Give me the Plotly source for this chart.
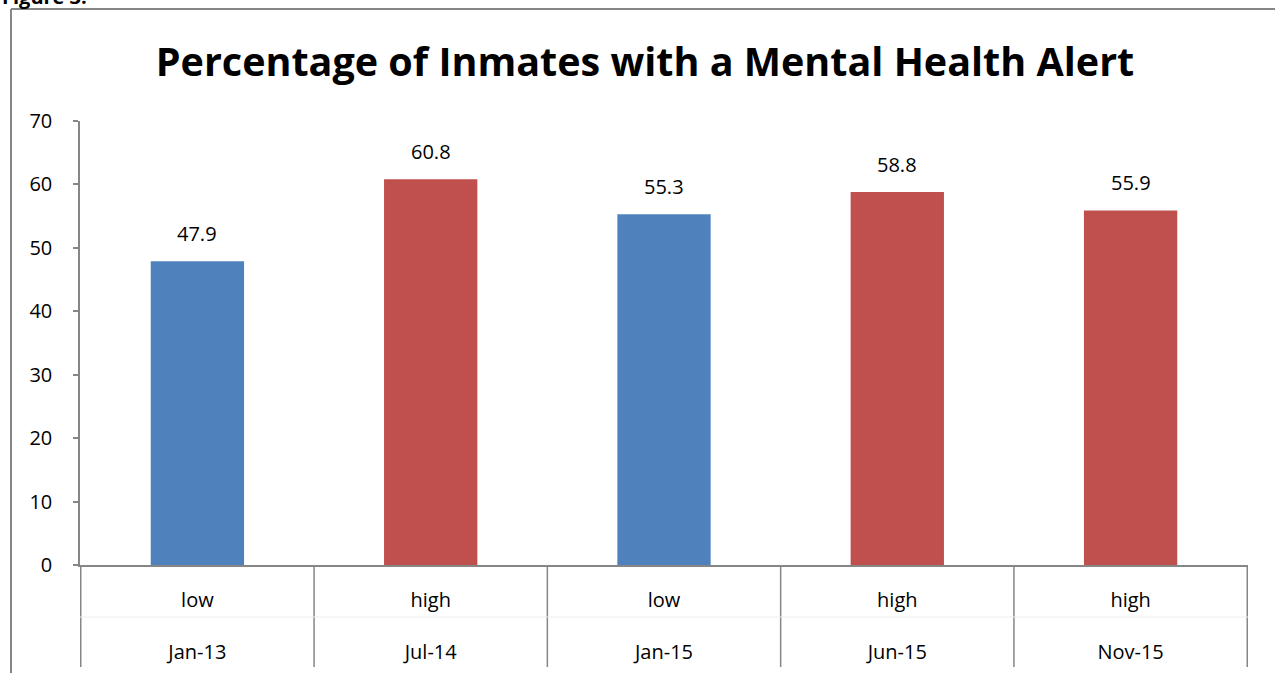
import plotly.graph_objects as go

# ---- data ----
dates = ["Jan-13", "Jul-14", "Jan-15", "Jun-15", "Nov-15"]
levels = ["low", "high", "low", "high", "high"]
values = [47.9, 60.8, 55.3, 58.8, 55.9]
level_colors = {"low": "#4F81BD", "high": "#C0504D"}
y_ticks = [0, 10, 20, 30, 40, 50, 60, 70]
title_text = "Percentage of Inmates with a Mental Health Alert"

FONT = "Open Sans"
AXIS_GRAY = "#868686"

# plot area geometry (px)
W, H = 1275, 673
L, R, T, B = 80, 27, 121, 108
pw, ph = W - L - R, H - T - B

def px_x(p):
    return (p - L) / pw

def px_y(p):
    return (H - B - p) / ph

cats = [f"{lv}<br><br>{d}" for lv, d in zip(levels, dates)]

fig = go.Figure()
fig.add_trace(go.Bar(
    x=cats,
    y=values,
    marker=dict(color=[level_colors[lv] for lv in levels], line=dict(width=0)),
    width=0.4,
    hoverinfo="x+y",
))

# value labels above bars
for c, v in zip(cats, values):
    fig.add_annotation(x=c, y=v, text=f"{v:.1f}", showarrow=False,
                       yanchor="bottom", yshift=12,
                       font=dict(family=FONT, size=20, color="#000000"))

# category separators (at category boundaries) below the axis
shapes = []
for i in range(len(cats) + 1):
    shapes.append(dict(type="line", xref="x", yref="paper",
                       x0=i - 0.5, x1=i - 0.5, y0=0, y1=px_y(667),
                       line=dict(color=AXIS_GRAY, width=1.5)))
# faint row separator
shapes.append(dict(type="line", xref="paper", yref="paper",
                   x0=0, x1=1, y0=px_y(617), y1=px_y(617),
                   line=dict(color="#ececec", width=1)))
# outer chart frame (cropped)
shapes.append(dict(type="line", xref="paper", yref="paper",
                   x0=px_x(11), x1=px_x(11), y0=px_y(9), y1=px_y(700),
                   line=dict(color=AXIS_GRAY, width=2)))
shapes.append(dict(type="line", xref="paper", yref="paper",
                   x0=px_x(11), x1=px_x(1300), y0=px_y(9), y1=px_y(9),
                   line=dict(color=AXIS_GRAY, width=2)))

fig.add_annotation(xref="paper", yref="paper", x=px_x(0), y=px_y(12),
                   xanchor="left", yanchor="bottom", showarrow=False,
                   text="<b>Figure 3:</b>",
                   font=dict(family=FONT, size=20, color="#000000"))

fig.update_layout(
    width=W, height=H,
    margin=dict(l=L, r=R, t=T, b=B, pad=0, autoexpand=False),
    paper_bgcolor="white", plot_bgcolor="white",
    showlegend=False,
    bargap=0.6,
    title=dict(text=f"<b>{title_text}</b>", x=645 / W, xanchor="center",
               y=1 - 62 / H, yanchor="middle",
               font=dict(family=FONT, size=39.5, color="#000000")),
    shapes=shapes,
    font=dict(family=FONT, size=20, color="#000000"),
)

fig.update_xaxes(
    type="category", automargin=False,
    showline=True, linecolor=AXIS_GRAY, linewidth=1.5,
    ticks="", showgrid=False, zeroline=False,
    tickfont=dict(family=FONT, size=20, color="#000000"),
    ticklabelstandoff=16,
)
fig.update_yaxes(
    range=[0, 70], tickvals=y_ticks, automargin=False,
    showline=True, linecolor=AXIS_GRAY, linewidth=1.5,
    ticks="outside", ticklen=5, tickcolor=AXIS_GRAY, tickwidth=1.5,
    showgrid=False, zeroline=False,
    tickfont=dict(family=FONT, size=20, color="#000000"),
    ticklabelstandoff=17,
)

fig.write_html("out.html", config={"displayModeBar": False},
               post_script="document.body.style.margin='0';")
